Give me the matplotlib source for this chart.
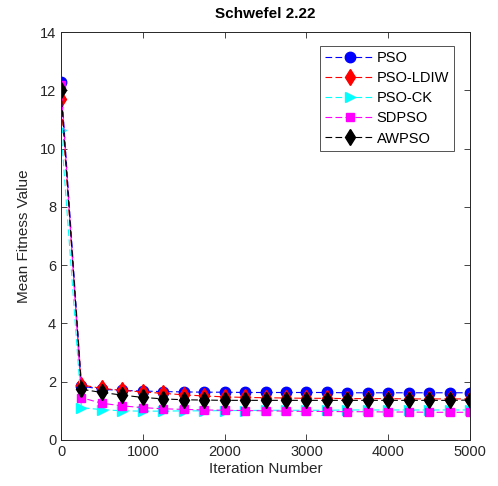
import matplotlib
matplotlib.use("Agg")
import matplotlib.pyplot as plt
import numpy as np

plt.rcParams['font.family'] = ['Liberation Sans', 'DejaVu Sans']

iterations = [0, 250, 500, 750, 1000, 1250, 1500, 1750, 2000, 2250, 2500,
              2750, 3000, 3250, 3500, 3750, 4000, 4250, 4500, 4750, 5000]

pso = [12.3, 1.85, 1.74, 1.70, 1.68, 1.66, 1.65, 1.64, 1.64, 1.63, 1.63,
       1.63, 1.63, 1.63, 1.62, 1.62, 1.62, 1.62, 1.62, 1.62, 1.62]
pso_ldiw = [11.7, 1.89, 1.77, 1.70, 1.65, 1.60, 1.55, 1.51, 1.48, 1.46, 1.45,
            1.44, 1.43, 1.43, 1.42, 1.42, 1.42, 1.41, 1.41, 1.41, 1.41]
pso_ck = [10.65, 1.11, 1.04, 1.00, 0.99, 0.99, 1.00, 1.00, 1.01, 1.01, 1.02,
          1.02, 1.02, 1.02, 1.03, 1.03, 1.03, 1.03, 1.03, 1.03, 1.03]
sdpso = [12.2, 1.45, 1.26, 1.17, 1.11, 1.07, 1.05, 1.03, 1.02, 1.01, 1.00,
         0.99, 0.98, 0.98, 0.97, 0.97, 0.96, 0.96, 0.95, 0.95, 0.95]
awpso = [12.0, 1.74, 1.63, 1.54, 1.46, 1.41, 1.38, 1.37, 1.36, 1.36, 1.36,
         1.36, 1.36, 1.36, 1.36, 1.36, 1.36, 1.36, 1.36, 1.36, 1.37]

series = [
    ("PSO", pso, 'blue', 'o', 7.5),
    ("PSO-LDIW", pso_ldiw, 'red', 'd', 8),
    ("PSO-CK", pso_ck, 'cyan', '>', 7.5),
    ("SDPSO", sdpso, 'magenta', 's', 6),
    ("AWPSO", awpso, 'black', 'd', 8),
]

fig = plt.figure(figsize=(4.98, 4.86), dpi=100)
ax = fig.add_axes([0.1225, 0.0947, 0.8215, 0.8393])

for name, vals, col, mk, ms in series:
    ax.plot(iterations, vals, linestyle='--', dashes=(6, 3), color=col, lw=0.8,
            marker=mk, markersize=ms, markerfacecolor=col, markeredgecolor=col,
            label=name)

ax.set_xlim(0, 5000)
ax.set_ylim(0, 14)
ax.set_xticks([0, 1000, 2000, 3000, 4000, 5000])
ax.set_yticks([0, 2, 4, 6, 8, 10, 12, 14])
ax.tick_params(direction='in', top=True, right=True, labelsize=10.5,
               length=4, width=0.6, colors='#262626', labelcolor='#262626')
for sp in ax.spines.values():
    sp.set_linewidth(0.7)
    sp.set_color('#262626')

ax.set_xlabel('Iteration Number', fontsize=11, color='#262626', labelpad=2)
ax.set_ylabel('Mean Fitness Value', fontsize=11, color='#262626', labelpad=6)
ax.set_title('Schwefel 2.22', fontsize=11, fontweight='bold', pad=10)

leg = ax.legend(loc='upper right', bbox_to_anchor=(0.961, 0.966), fontsize=10.5,
                frameon=True, fancybox=False, edgecolor='#262626',
                handlelength=3.4, borderpad=0.35, labelspacing=0.42,
                handletextpad=0.15, borderaxespad=0.0)
leg.get_frame().set_linewidth(0.7)

fig.savefig('out.png', dpi=100)
